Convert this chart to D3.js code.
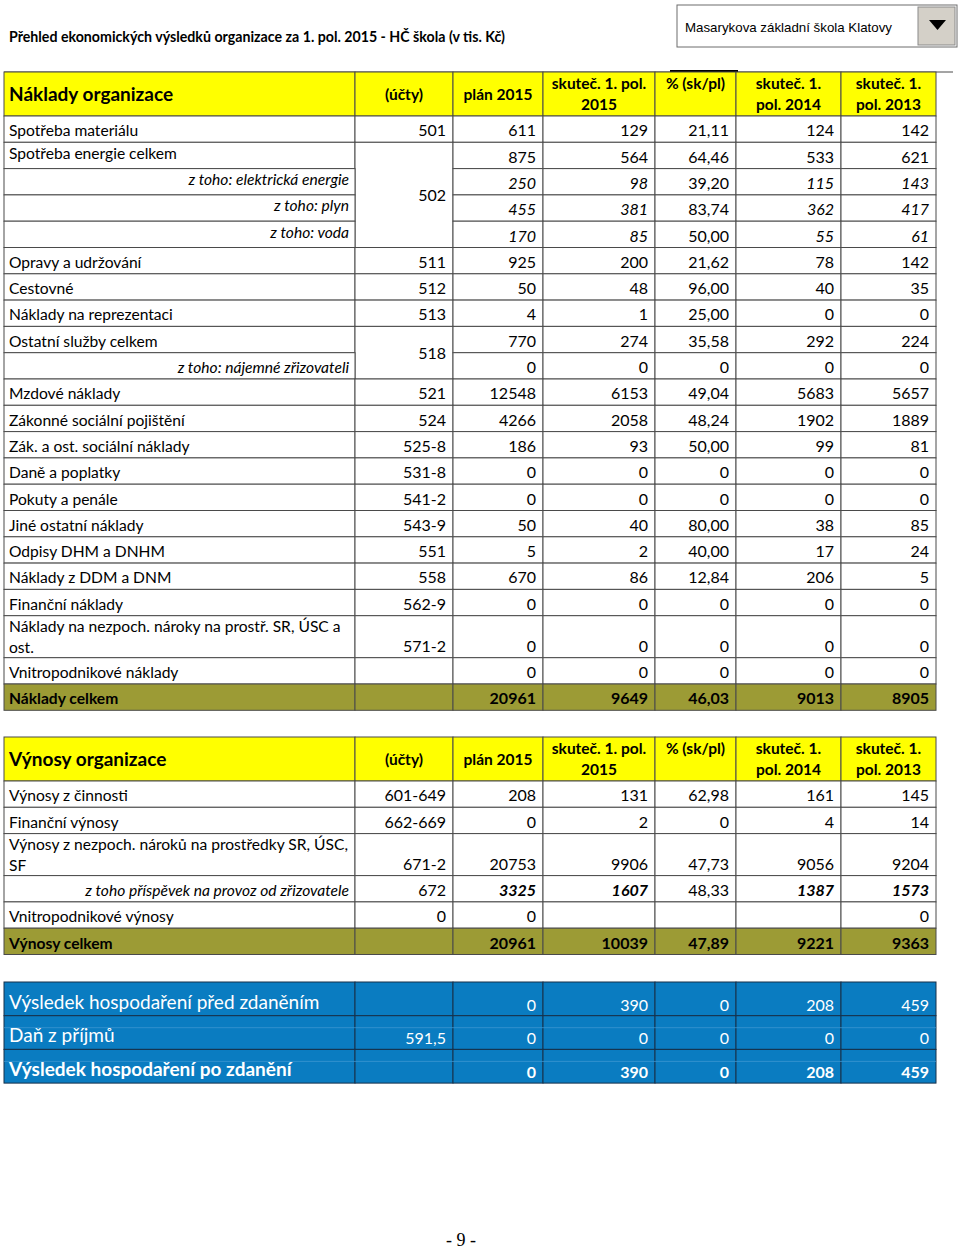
<!DOCTYPE html>
<html>
<head>
<meta charset="utf-8">
<script src="https://cdnjs.cloudflare.com/ajax/libs/d3/7.8.5/d3.min.js"></script>
<style>
  body { margin: 0; background: #fff; overflow: hidden; }
  svg { display: block; }
  svg text { font-family: Lato, "Open Sans", sans-serif; }
</style>
</head>
<body>
<div id="app"></div>
<script>
// ---- data ----
const title = "Přehled ekonomických výsledků organizace za 1. pol. 2015 - HČ škola (v tis. Kč)";
const schoolName = "Masarykova základní škola Klatovy";
const headerLines = [["(účty)"], ["plán 2015"], ["skuteč. 1. pol.", "2015"], ["% (sk/pl)"], ["skuteč. 1.", "pol. 2014"], ["skuteč. 1.", "pol. 2013"]];

const costLabels = ["Spotřeba materiálu", "Spotřeba energie celkem", "z toho: elektrická energie", "z toho: plyn", "z toho: voda",
  "Opravy a udržování", "Cestovné", "Náklady na reprezentaci", "Ostatní služby celkem", "z toho: nájemné zřizovateli",
  "Mzdové náklady", "Zákonné sociální pojištění", "Zák. a ost. sociální náklady", "Daně a poplatky", "Pokuty a penále",
  "Jiné ostatní náklady", "Odpisy DHM a DNHM", "Náklady z  DDM a DNM", "Finanční náklady",
  "Náklady na nezpoch. nároky na prostř. SR, ÚSC a\nost.", "Vnitropodnikové náklady", "Náklady celkem"];
const costAccounts = ["501", "502", null, null, null, "511", "512", "513", "518", null, "521", "524", "525-8", "531-8", "541-2", "543-9", "551", "558", "562-9", "571-2", "", ""];
const costSpan = [1, 4, 0, 0, 0, 1, 1, 1, 2, 0, 1, 1, 1, 1, 1, 1, 1, 1, 1, 1, 1, 1];
const costPlan = [611, 875, 250, 455, 170, 925, 50, 4, 770, 0, 12548, 4266, 186, 0, 0, 50, 5, 670, 0, 0, 0, 20961];
const costActual = [129, 564, 98, 381, 85, 200, 48, 1, 274, 0, 6153, 2058, 93, 0, 0, 40, 2, 86, 0, 0, 0, 9649];
const costPct = [21.11, 64.46, 39.20, 83.74, 50.00, 21.62, 96.00, 25.00, 35.58, 0, 49.04, 48.24, 50.00, 0, 0, 80.00, 40.00, 12.84, 0, 0, 0, 46.03];
const cost2014 = [124, 533, 115, 362, 55, 78, 40, 0, 292, 0, 5683, 1902, 99, 0, 0, 38, 17, 206, 0, 0, 0, 9013];
const cost2013 = [142, 621, 143, 417, 61, 142, 35, 0, 224, 0, 5657, 1889, 81, 0, 0, 85, 24, 5, 0, 0, 0, 8905];
const costKind = ["row", "rowT", "subT", "subT", "subT", "row", "row", "row", "row", "note", "row", "row", "row", "row", "row", "row", "row", "row", "row", "row", "row", "total"];

const revLabels = ["Výnosy z činnosti", "Finanční výnosy", "Výnosy z nezpoch. nároků na prostředky SR, ÚSC,\nSF",
  "z toho příspěvek na provoz od zřizovatele", "Vnitropodnikové výnosy", "Výnosy celkem"];
const revAccounts = ["601-649", "662-669", "671-2", "672", "0", ""];
const revPlan = [208, 0, 20753, 3325, 0, 20961];
const revActual = [131, 2, 9906, 1607, null, 10039];
const revPct = [62.98, 0, 47.73, 48.33, null, 47.89];
const rev2014 = [161, 4, 9056, 1387, null, 9221];
const rev2013 = [145, 14, 9204, 1573, 0, 9363];
const revKind = ["row", "row", "row", "subB", "row", "total"];

const resLabels = ["Výsledek hospodaření před zdaněním", "Daň z příjmů", "Výsledek hospodaření po zdanění"];
const resAccounts = ["", "591,5", ""];
const resPlan = [0, 0, 0];
const resActual = [390, 0, 390];
const resPct = [0, 0, 0];
const res2014 = [208, 0, 208];
const res2013 = [459, 0, 459];
const resKind = ["res", "res", "resB"];

// ---- layout ----
const w = 960, h = 1250;
const colKeys = ["label", "acct", "plan", "actual", "pct", "y2014", "y2013"];
const colEdges = [4, 355, 453, 543, 655, 736, 841, 936];
const xLeft = d3.scaleOrdinal().domain(colKeys).range(colEdges.slice(0, 7));
const xRight = d3.scaleOrdinal().domain(colKeys).range(colEdges.slice(1));

const yellow = "#ffff00", olive = "#9c9b35", blue = "#0a7cc1";
const grid = "#4a4a4a", navy = "#16304a";

const fmtPct = v => v === 0 ? "0" : d3.format(".2f")(v).replace(".", ",");
const fmt = (k, v) => v === null || v === undefined ? "" : (k === "pct" ? fmtPct(v) : String(v));

const svg = d3.select("#app")
  .append("svg")
  .attr("width", w)
  .attr("height", h);

function buildRows(labels, accts, spans, plan, actual, pct, y14, y13, kinds) {
  return labels.map((label, i) => ({
    label, kind: kinds[i],
    acct: accts[i], span: spans ? spans[i] : 1,
    vals: { plan: plan[i], actual: actual[i], pct: pct[i], y2014: y14[i], y2013: y13[i] }
  }));
}

function drawHeader(top, name) {
  const g = svg.append("g");
  const hh = 44;
  g.selectAll("rect")
    .data(colKeys)
    .enter()
    .append("rect")
    .attr("x", d => xLeft(d))
    .attr("y", top)
    .attr("width", d => xRight(d) - xLeft(d))
    .attr("height", hh)
    .attr("fill", yellow)
    .attr("stroke", grid)
    .attr("stroke-width", 1);

  g.append("text")
    .attr("x", 9)
    .attr("y", top + 29)
    .attr("font-size", 19)
    .attr("font-weight", 700)
    .text(name);

  colKeys.slice(1).forEach((k, i) => {
    const lines = headerLines[i];
    const cx = (xLeft(k) + xRight(k)) / 2;
    const base = lines.length === 2 || k === "pct" ? [top + 17, top + 38] : [top + 28];
    lines.forEach((t, j) => {
      g.append("text")
        .attr("x", cx)
        .attr("y", base[j])
        .attr("text-anchor", "middle")
        .attr("font-size", 15.5)
        .attr("font-weight", 700)
        .text(t);
    });
  });
  return top + hh;
}

function drawBody(top, rows, rowH, tallH) {
  const heights = rows.map(r => r.label.includes("\n") ? tallH : rowH);
  const tops = [top, ...d3.cumsum(heights).map(c => top + c)];
  const yTop = d3.scaleOrdinal().domain(d3.range(rows.length + 1)).range(tops);
  const g = svg.append("g");

  rows.forEach((r, i) => {
    const y0 = yTop(i), y1 = yTop(i + 1);
    const isRes = r.kind.startsWith("res");
    const fill = r.kind === "total" ? olive : isRes ? blue : "#fff";
    const stroke = isRes ? navy : grid;
    const color = isRes ? "#fff" : "#000";
    const bold = r.kind === "total" || r.kind === "resB";

    colKeys.forEach(k => {
      if (k === "acct" && r.span === 0) return;
      const yEnd = k === "acct" ? yTop(i + r.span) : y1;
      g.append("rect")
        .attr("x", xLeft(k))
        .attr("y", y0)
        .attr("width", xRight(k) - xLeft(k))
        .attr("height", yEnd - y0)
        .attr("fill", fill)
        .attr("stroke", stroke)
        .attr("stroke-width", 1);
    });

    if (isRes && i > 0) {
      g.append("line") // faint sheet gridline inside blue rows
        .attr("x1", xLeft("label")).attr("x2", xRight("y2013"))
        .attr("y1", y0 + 12).attr("y2", y0 + 12)
        .attr("stroke", "#3b95d0")
        .attr("stroke-width", 0.8);
    }

    // label
    const sub = ["subT", "note", "subB"].includes(r.kind);
    const lines = r.label.split("\n");
    const labelBase = lines.length === 2 ? [y0 + 16, y0 + 37]
      : (r.kind === "rowT" || r.kind === "subT") ? [y1 - 10] : [y1 - 6];
    lines.forEach((t, j) => {
      g.append("text")
        .attr("x", sub ? xRight("label") - 6 : 9)
        .attr("y", isRes ? y1 - 7 : labelBase[j])
        .attr("text-anchor", sub ? "end" : "start")
        .attr("font-size", isRes ? 19 : 15.6)
        .attr("font-style", sub ? "italic" : "normal")
        .attr("font-weight", bold ? 700 : 400)
        .attr("fill", color)
        .text(t);
    });

    // account
    if (r.span > 0 && r.acct) {
      const yEnd = yTop(i + r.span);
      g.append("text")
        .attr("x", xRight("acct") - 7)
        .attr("y", r.span > 1 ? (y0 + yEnd) / 2 + 6 : y1 - (isRes ? 5 : 6))
        .attr("text-anchor", "end")
        .attr("font-size", 16)
        .attr("font-weight", bold ? 700 : 400)
        .attr("fill", color)
        .text(r.acct);
    }

    // values
    Object.keys(r.vals).forEach(k => {
      const ital = (r.kind === "subT" || r.kind === "subB") && k !== "pct";
      g.append("text")
        .attr("x", xRight(k) - 7)
        .attr("y", y1 - (isRes ? 5 : 6))
        .attr("text-anchor", "end")
        .attr("font-size", 16)
        .attr("font-style", ital ? "italic" : "normal")
        .attr("font-weight", bold || (r.kind === "subB" && k !== "pct") ? 700 : 400)
        .attr("fill", color)
        .text(fmt(k, r.vals[k]));
    });
  });
  return yTop(rows.length);
}

// title
svg.append("text")
  .attr("x", 9)
  .attr("y", 42)
  .attr("font-size", 14.2)
  .attr("font-weight", 700)
  .text(title);

// school selector box
const sel = svg.append("g");
sel.append("rect")
  .attr("x", 677).attr("y", 5)
  .attr("width", 280).attr("height", 42)
  .attr("fill", "#fff")
  .attr("stroke", "#6d6d6d");
sel.append("rect")
  .attr("x", 918).attr("y", 7)
  .attr("width", 37).attr("height", 38)
  .attr("fill", "#d4d0c8")
  .attr("stroke", "#8a8a8a");
sel.append("path")
  .attr("d", "M929,20 L946,20 L937.5,30 Z")
  .attr("fill", "#000");
sel.append("text")
  .attr("x", 685)
  .attr("y", 32)
  .style("font-family", "'Liberation Sans', sans-serif")
  .attr("font-size", 13.3)
  .text(schoolName);

// costs
svg.append("line")
  .attr("x1", 4).attr("x2", 953)
  .attr("y1", 72).attr("y2", 72)
  .attr("stroke", grid);
svg.append("line")
  .attr("x1", 670).attr("x2", 738)
  .attr("y1", 71).attr("y2", 71)
  .attr("stroke", "#000")
  .attr("stroke-width", 2);

let y = drawHeader(72, "Náklady organizace");
drawBody(y, buildRows(costLabels, costAccounts, costSpan, costPlan, costActual, costPct, cost2014, cost2013, costKind), 26.3, 42);

// revenues
y = drawHeader(737, "Výnosy organizace");
drawBody(y, buildRows(revLabels, revAccounts, null, revPlan, revActual, revPct, rev2014, rev2013, revKind), 26.3, 42);

// result
drawBody(982, buildRows(resLabels, resAccounts, null, resPlan, resActual, resPct, res2014, res2013, resKind), 33.7, 42);

// page number
svg.append("text")
  .attr("x", 461)
  .attr("y", 1246)
  .attr("text-anchor", "middle")
  .style("font-family", "'Liberation Serif', serif")
  .attr("font-size", 18)
  .text("- 9 -");
</script>
</body>
</html>
